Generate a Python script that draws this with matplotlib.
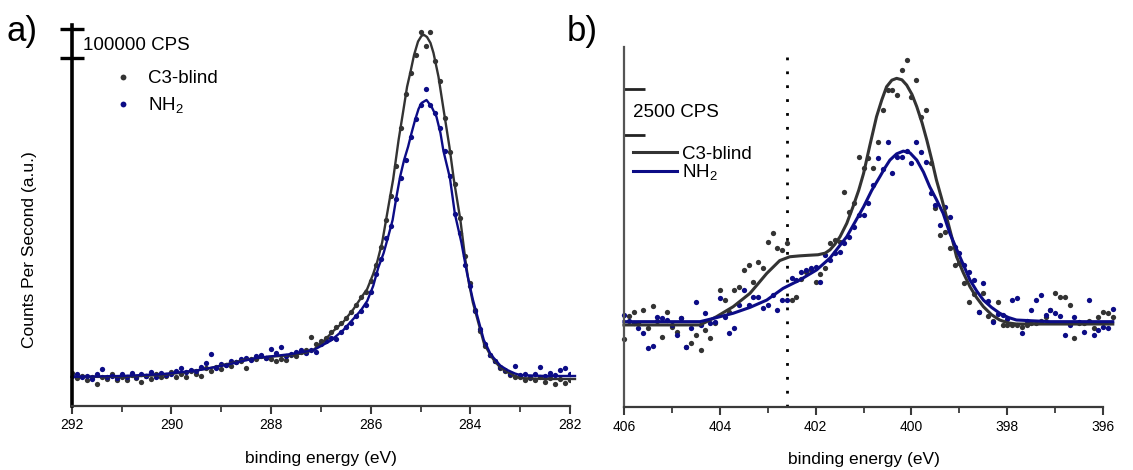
import numpy as np
import matplotlib
matplotlib.use("Agg")
import matplotlib.pyplot as plt
from matplotlib.lines import Line2D
from matplotlib.ticker import MultipleLocator

plt.rcParams['font.family'] = ['Liberation Sans', 'DejaVu Sans']
plt.rcParams['mathtext.fontset'] = 'custom'
plt.rcParams['mathtext.rm'] = 'Liberation Sans'

# ---------------- Panel a: C 1s (counts in kCPS) ----------------
a_energy = np.round(np.arange(292.0, 281.95, -0.1), 1)
a_c3_counts = [110, 92, 100, 88, 95, 72, 98, 90, 105, 85,
               96, 88, 102, 92, 80, 100, 90, 108, 95, 100,
               112, 97, 105, 95, 117, 108, 100, 125, 115, 130,
               122, 138, 132, 145, 150, 128, 158, 155, 165, 160,
               155, 150, 158, 152, 170, 165, 180, 188, 230, 205,
               215, 228, 245, 262, 275, 292, 312, 335, 362, 380,
               415, 470, 530, 620, 700, 800, 925, 1040, 1110, 1170,
               1247, 1200, 1247, 1150, 1085, 960, 845, 740, 625, 500,
               410, 320, 250, 200, 170, 150, 128, 115, 102, 95,
               98, 85, 92, 88, 95, 80, 92, 72, 90, 78, 88]
a_nh2_counts = [100, 105, 95, 100, 90, 108, 122, 98, 100, 92,
                105, 95, 110, 98, 105, 100, 112, 96, 110, 102,
                108, 118, 125, 112, 120, 115, 130, 143, 172, 128,
                140, 135, 150, 145, 155, 160, 152, 165, 170, 160,
                190, 175, 195, 168, 172, 180, 185, 178, 188, 180,
                208, 215, 225, 222, 245, 262, 275, 300, 315, 335,
                380, 440, 490, 560, 600, 690, 760, 820, 895, 955,
                1005, 1057, 1005, 975, 925, 850, 765, 640, 575, 470,
                400, 315, 255, 205, 170, 150, 130, 120, 108, 133,
                102, 105, 98, 108, 130, 100, 110, 104, 120, 125, 105]

a_c3_fit_e = [292.0, 291.0, 290.2, 289.7, 289.2, 288.55, 288.1, 287.55, 287.3, 287.15,
              286.95, 286.75, 286.55, 286.35, 286.2, 286.07, 285.95, 285.87, 285.77, 285.65,
              285.55, 285.44, 285.35, 285.27, 285.2, 285.13, 285.05, 284.98, 284.93, 284.87,
              284.8, 284.74, 284.64, 284.53, 284.42, 284.33, 284.2, 284.1, 284.04, 283.95,
              283.86, 283.73, 283.6, 283.53, 283.4, 283.26, 283.1, 283.0, 282.5, 281.9]
a_c3_fit = [97, 97, 103, 113, 127, 153, 163, 170, 178, 187,
            215, 250, 280, 322, 359, 390, 440, 480, 545, 660,
            755, 887, 980, 1064, 1115, 1170, 1215, 1234, 1237, 1230,
            1210, 1177, 1098, 980, 864, 753, 620, 487, 420, 345,
            290, 210, 170, 153, 128, 113, 100, 93, 90, 90]
a_nh2_fit_e = [292.0, 291.0, 290.2, 289.5, 288.9, 288.3, 287.6, 287.15, 286.8, 286.55,
               286.35, 286.2, 286.07, 285.95, 285.85, 285.74, 285.64, 285.56, 285.48, 285.41,
               285.33, 285.25, 285.18, 285.11, 285.04, 284.98, 284.88, 284.78, 284.68, 284.6,
               284.54, 284.41, 284.31, 284.18, 284.07, 283.95, 283.86, 283.73, 283.6, 283.53,
               283.4, 283.26, 283.1, 283.0, 282.5, 281.9]
a_nh2_fit = [97, 100, 106, 118, 137, 160, 173, 186, 218, 253,
             290, 318, 350, 400, 460, 510, 570, 620, 700, 764,
             820, 864, 910, 953, 990, 1010, 1020, 998, 964, 910,
             850, 760, 640, 545, 445, 355, 300, 220, 175, 160,
             135, 120, 108, 103, 100, 100]
a_scale_ticks = [1160, 1257]          # 100000 CPS scale bar (kCPS)

# ---------------- Panel b: N 1s (counts in CPS) ----------------
b_energy = np.round(np.arange(406.0, 395.75, -0.1), 1)
b_c3_counts = [3700, 5000, 5200, 4600, 5300, 4300, 5500, 4700, 3850, 5200,
               4400, 4100, 4870, 3300, 3500, 3940, 3120, 4200, 3770, 4600,
               6400, 5850, 5200, 6400, 6580, 7490, 7770, 6850, 7950, 7600,
               9040, 9500, 8680, 8590, 8950, 5850, 6030, 7000, 7400, 7490,
               6850, 7300, 7590, 8950, 9140, 9040, 11780, 10680, 11140, 13690,
               13060, 13600, 13060, 14510, 16250, 17340, 17340, 17070, 18430, 18980,
               16970, 17890, 15880, 16250, 13330, 10870, 9410, 9590, 8680, 7770,
               7860, 6770, 5760, 6200, 5200, 6220, 5000, 4700, 5760, 4490,
               4490, 4490, 4490, 4400, 4490, 4600, 4580, 4700, 4940, 5300,
               6220, 6030, 6030, 5580, 3760, 4600, 4580, 4700, 4300, 4940,
               5210, 5120, 4900]
b_nh2_counts = [5030, 4700, 4580, 4300, 4030, 3210, 3340, 4940, 4850, 4760,
                4500, 3940, 4850, 3300, 4300, 5760, 4490, 5130, 4580, 4670,
                5950, 4900, 4030, 4300, 5580, 6400, 5600, 6030, 6030, 5400,
                5580, 6130, 5310, 5850, 5850, 7040, 6950, 7400, 7490, 7590,
                7670, 6850, 8310, 8040, 8410, 8500, 8950, 9320, 9860, 10500,
                10500, 11140, 12140, 13600, 13000, 14510, 12780, 13690, 13690, 14000,
                13330, 14510, 13970, 13420, 11690, 11050, 9960, 10960, 10410, 8770,
                8410, 7770, 7400, 6950, 5210, 6770, 5800, 4670, 5100, 5030,
                4800, 5850, 5950, 4030, 4700, 5310, 5850, 6130, 5030, 5310,
                5130, 4990, 3940, 4500, 4940, 4670, 4120, 5850, 3940, 4200,
                4390, 4310, 5340]

b_c3_fit_e = [406.0, 405.0, 404.41, 404.07, 403.72, 403.37, 403.02, 402.75, 402.54, 402.33,
              402.15, 401.95, 401.8, 401.7, 401.6, 401.49, 401.35, 401.22, 401.1, 401.0,
              400.87, 400.73, 400.62, 400.52, 400.41, 400.31, 400.2, 400.1, 399.99, 399.89,
              399.78, 399.68, 399.58, 399.48, 399.37, 399.27, 399.16, 399.06, 398.92, 398.78,
              398.64, 398.5, 398.33, 398.16, 397.98, 397.81, 397.0, 395.8]
b_c3_fit = [4490, 4490, 4490, 4940, 5490, 6220, 7310, 8010, 8220, 8270,
            8300, 8330, 8420, 8600, 8900, 9320, 10050, 10960, 11870, 12780,
            14300, 15880, 16800, 17520, 17880, 17980, 17900, 17610, 17100, 16430,
            15550, 14600, 13550, 12420, 11400, 10410, 9300, 8220, 7350, 6580,
            5980, 5490, 5050, 4760, 4600, 4540, 4540, 4540]
b_nh2_fit_e = [406.0, 405.0, 404.41, 404.07, 403.72, 403.37, 403.02, 402.68, 402.33, 401.98,
               401.7, 401.35, 401.0, 400.83, 400.66, 400.55, 400.45, 400.31, 400.17, 400.03,
               399.89, 399.75, 399.62, 399.48, 399.34, 399.2, 398.99, 398.78, 398.64, 398.5,
               398.33, 398.16, 397.98, 397.81, 397.11, 395.8]
b_nh2_fit = [4670, 4670, 4670, 4890, 5130, 5450, 5850, 6490, 6950, 7500,
             8150, 9320, 10950, 11850, 12600, 13100, 13510, 13850, 14000, 13900,
             13510, 12850, 12050, 11350, 10600, 9500, 8220, 6950, 6350, 5850,
             5450, 5130, 4900, 4760, 4670, 4670]
b_scale_ticks = [14880, 17380]        # 2500 CPS scale bar
b_marker_energy = 402.6

# ---------------- styles ----------------
C_BLACK = '#333333'
C_BLUE = '#0c0c86'
DOT_MS = 3.8

fig = plt.figure(figsize=(11.33, 4.70), dpi=100)
ax_a = fig.add_axes([0.0633, 0.1362, 0.4398, 0.8106])
ax_b = fig.add_axes([0.5507, 0.1340, 0.4230, 0.7666])

def style_common(ax, xlim, ylim):
    ax.set_xlim(*xlim)
    ax.set_ylim(*ylim)
    ax.spines['top'].set_visible(False)
    ax.spines['right'].set_visible(False)
    ax.spines['bottom'].set_color('#3a3a3a')
    ax.spines['bottom'].set_linewidth(1.6)
    ax.xaxis.set_major_locator(MultipleLocator(2))
    ax.xaxis.set_minor_locator(MultipleLocator(1))
    ax.tick_params(axis='x', which='major', direction='out', length=6, width=1.5,
                   color='#3a3a3a', labelsize=10, pad=3)
    ax.tick_params(axis='x', which='minor', direction='out', length=4, width=1.3,
                   color='#3a3a3a')
    ax.set_xlabel('binding energy (eV)', fontsize=12.5, labelpad=13)

# Panel a
ax_a.plot(a_energy, a_c3_counts, 'o', color=C_BLACK, ms=DOT_MS, mew=0)
ax_a.plot(a_energy, a_nh2_counts, 'o', color=C_BLUE, ms=DOT_MS, mew=0)
ax_a.plot(a_c3_fit_e, a_c3_fit, '-', color=C_BLACK, lw=1.7, clip_on=False)
ax_a.plot(a_nh2_fit_e, a_nh2_fit, '-', color=C_BLUE, lw=1.7, clip_on=False)
style_common(ax_a, (292, 282), (0, 1270))
ax_a.spines['left'].set_color('black')
ax_a.spines['left'].set_linewidth(2.6)
ax_a.set_yticks(a_scale_ticks)
ax_a.set_yticklabels([])
ax_a.tick_params(axis='y', direction='inout', length=17, width=2.4, color='black')
ax_a.text(0.023, np.mean(a_scale_ticks) - 8, '100000 CPS', transform=ax_a.get_yaxis_transform(),
          fontsize=13.5, va='center', ha='left')
ax_a.set_ylabel('Counts Per Second (a.u.)', fontsize=12.5)
ax_a.yaxis.set_label_coords(-0.07, 0.41)
leg_a = ax_a.legend(handles=[Line2D([], [], ls='none', marker='o', ms=DOT_MS + 0.4, mew=0, color=C_BLACK),
                             Line2D([], [], ls='none', marker='o', ms=DOT_MS + 0.4, mew=0, color=C_BLUE)],
                    labels=['C3-blind', 'NH$_\\mathregular{2}$'],
                    loc='upper left', bbox_to_anchor=(0.084, 0.882), frameon=False,
                    fontsize=13.5, handlelength=1.0, handletextpad=0.85,
                    borderpad=0, borderaxespad=0, labelspacing=0.45)

# Panel b
ax_b.plot(b_energy, b_c3_counts, 'o', color=C_BLACK, ms=DOT_MS, mew=0, clip_on=False)
ax_b.plot(b_energy, b_nh2_counts, 'o', color=C_BLUE, ms=DOT_MS, mew=0, clip_on=False)
ax_b.plot(b_c3_fit_e, b_c3_fit, '-', color=C_BLACK, lw=2.2, clip_on=False)
ax_b.plot(b_nh2_fit_e, b_nh2_fit, '-', color=C_BLUE, lw=2.2, clip_on=False)
ax_b.axvline(b_marker_energy, color='black', lw=2, ls=(0, (1, 4)))
style_common(ax_b, (406, 396), (0, 19710))
ax_b.spines['left'].set_color('#555555')
ax_b.spines['left'].set_linewidth(1.6)
ax_b.set_yticks(b_scale_ticks)
ax_b.set_yticklabels([])
ax_b.tick_params(axis='y', direction='in', length=15, width=2, color='#222222')
ax_b.text(0.0188, np.mean(b_scale_ticks), '2500 CPS', transform=ax_b.get_yaxis_transform(),
          fontsize=13.5, va='center', ha='left')
leg_b = ax_b.legend(handles=[Line2D([], [], color=C_BLACK, lw=2.2),
                             Line2D([], [], color=C_BLUE, lw=2.2)],
                    labels=['C3-blind', 'NH$_\\mathregular{2}$'],
                    loc='upper left', bbox_to_anchor=(0.0188, 0.726), frameon=False,
                    fontsize=13.5, handlelength=2.35, handletextpad=0.27,
                    borderpad=0, borderaxespad=0, labelspacing=0.0)

fig.text(0.006, 0.934, 'a)', fontsize=25, va='center', ha='left')
fig.text(0.500, 0.934, 'b)', fontsize=25, va='center', ha='left')

fig.savefig('out.png', dpi=100)
